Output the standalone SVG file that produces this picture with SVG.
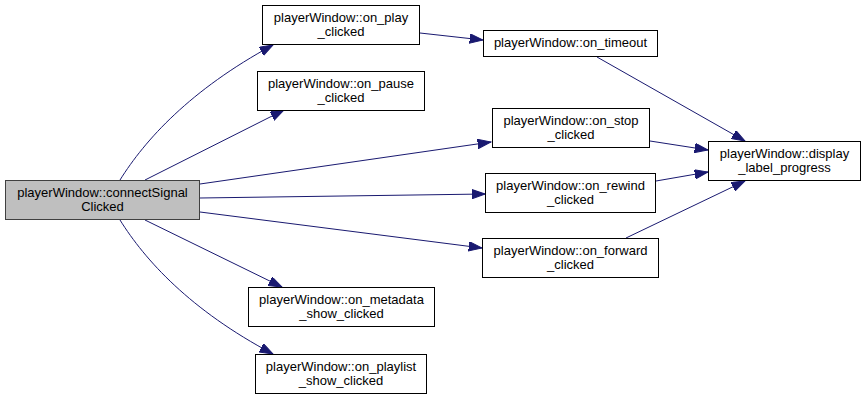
<svg xmlns="http://www.w3.org/2000/svg" width="867" height="400" viewBox="0 0 867 400">
<style>
.node rect{fill:#ffffff;stroke:#000000;stroke-width:1}
.node.root rect{fill:#bfbfbf;stroke:#404040}
.node text{font-family:"Liberation Sans",Arial,sans-serif;font-size:13px;fill:#000000;text-anchor:middle}
.edges path{fill:none;stroke:#191970;stroke-width:1;marker-end:url(#arr)}
</style>
<defs>
<marker id="arr" markerUnits="userSpaceOnUse" markerWidth="14" markerHeight="10" refX="13.3" refY="4.7" orient="auto">
<path d="M0,0 L13.3,4.7 L0,9.4 Z" fill="#191970" stroke="#191970" stroke-width="1"/>
</marker>
</defs>
<rect width="867" height="400" fill="#ffffff"/>
<g class="edges" id="edges">
<path d="M120,180 C145,140 190,90 273,45"/>
<path d="M145,180 L284,110"/>
<path d="M200,184 L491,142"/>
<path d="M200,198 L485,194"/>
<path d="M200,212 L482,248"/>
<path d="M145,220 L282,287"/>
<path d="M120,220 C145,260 190,310 273,354"/>
<path d="M420,33 L483,40"/>
<path d="M597,57 L745,141"/>
<path d="M650,141 L708,150"/>
<path d="M656,181 L708,172"/>
<path d="M626,238 L745,181"/>
</g>
<g class="node root" id="connectSignalClicked">
<rect x="5.5" y="180.5" width="194" height="39"/>
<text x="102.5" y="197">playerWindow::connectSignal</text>
<text x="102.5" y="211">Clicked</text>
</g>
<g class="node" id="on_play_clicked">
<rect x="262.5" y="5.5" width="157" height="39"/>
<text x="341" y="22">playerWindow::on_play</text>
<text x="341" y="36">_clicked</text>
</g>
<g class="node" id="on_pause_clicked">
<rect x="257.5" y="71.5" width="167" height="39"/>
<text x="341" y="88">playerWindow::on_pause</text>
<text x="341" y="102">_clicked</text>
</g>
<g class="node" id="on_metadata_show_clicked">
<rect x="248.5" y="287.5" width="186" height="39"/>
<text x="341.5" y="304">playerWindow::on_metadata</text>
<text x="341.5" y="318">_show_clicked</text>
</g>
<g class="node" id="on_playlist_show_clicked">
<rect x="255.5" y="354.5" width="171" height="39"/>
<text x="341" y="371">playerWindow::on_playlist</text>
<text x="341" y="385">_show_clicked</text>
</g>
<g class="node" id="on_timeout">
<rect x="483.5" y="30.5" width="174" height="26"/>
<text x="570.5" y="47">playerWindow::on_timeout</text>
</g>
<g class="node" id="on_stop_clicked">
<rect x="492.5" y="108.5" width="157" height="39"/>
<text x="571" y="125">playerWindow::on_stop</text>
<text x="571" y="139">_clicked</text>
</g>
<g class="node" id="on_rewind_clicked">
<rect x="485.5" y="173.5" width="170" height="39"/>
<text x="570.5" y="190">playerWindow::on_rewind</text>
<text x="570.5" y="204">_clicked</text>
</g>
<g class="node" id="on_forward_clicked">
<rect x="482.5" y="238.5" width="176" height="39"/>
<text x="570.5" y="255">playerWindow::on_forward</text>
<text x="570.5" y="269">_clicked</text>
</g>
<g class="node" id="display_label_progress">
<rect x="708.5" y="141.5" width="152" height="39"/>
<text x="784.5" y="158">playerWindow::display</text>
<text x="784.5" y="172">_label_progress</text>
</g>
</svg>
